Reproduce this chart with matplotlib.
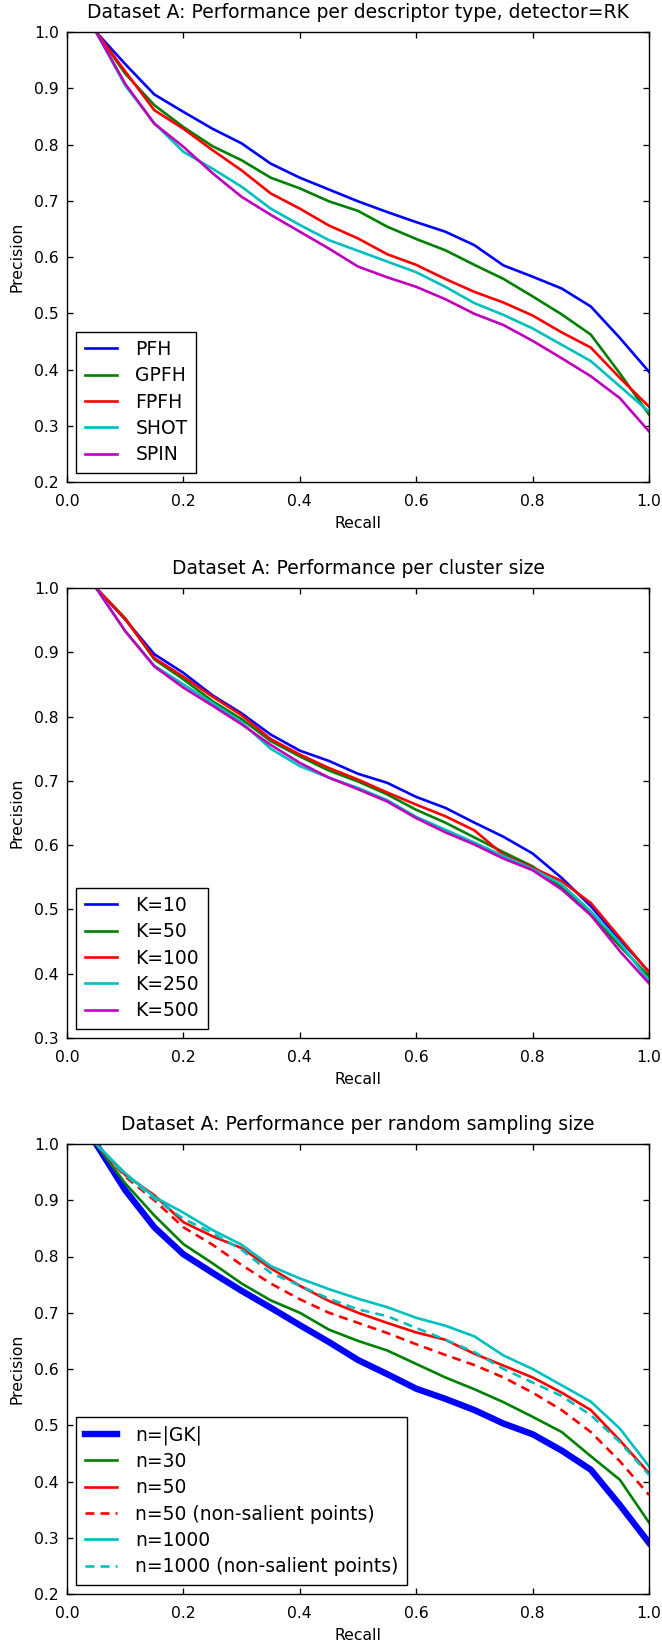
import matplotlib
matplotlib.use("Agg")
import matplotlib.pyplot as plt

recall = [0.05, 0.10, 0.15, 0.20, 0.25, 0.30, 0.35, 0.40, 0.45, 0.50,
          0.55, 0.60, 0.65, 0.70, 0.75, 0.80, 0.85, 0.90, 0.95, 1.00]

# Plot 1: descriptor types
pfh  = [1.0, 0.943, 0.889, 0.858, 0.828, 0.802, 0.766, 0.741, 0.720, 0.699,
        0.680, 0.662, 0.645, 0.621, 0.585, 0.565, 0.544, 0.512, 0.456, 0.396]
gpfh = [1.0, 0.926, 0.870, 0.831, 0.797, 0.772, 0.741, 0.722, 0.699, 0.682,
        0.654, 0.632, 0.612, 0.586, 0.561, 0.530, 0.498, 0.462, 0.393, 0.320]
fpfh = [1.0, 0.930, 0.861, 0.828, 0.790, 0.754, 0.713, 0.686, 0.656, 0.633,
        0.605, 0.586, 0.561, 0.538, 0.519, 0.496, 0.466, 0.439, 0.385, 0.334]
shot = [1.0, 0.905, 0.838, 0.787, 0.757, 0.725, 0.686, 0.657, 0.630, 0.611,
        0.592, 0.573, 0.547, 0.518, 0.497, 0.473, 0.444, 0.415, 0.370, 0.325]
spin = [1.0, 0.908, 0.837, 0.796, 0.749, 0.707, 0.675, 0.645, 0.615, 0.583,
        0.564, 0.547, 0.525, 0.499, 0.479, 0.451, 0.420, 0.388, 0.349, 0.290]
desc_labels = ["PFH", "GPFH", "FPFH", "SHOT", "SPIN"]

# Plot 2: cluster sizes
k10  = [1.0, 0.951, 0.897, 0.868, 0.833, 0.805, 0.772, 0.747, 0.731, 0.711,
        0.697, 0.675, 0.658, 0.635, 0.613, 0.587, 0.549, 0.505, 0.453, 0.403]
k50  = [1.0, 0.953, 0.889, 0.858, 0.824, 0.796, 0.762, 0.738, 0.716, 0.699,
        0.679, 0.655, 0.635, 0.612, 0.589, 0.567, 0.534, 0.492, 0.443, 0.396]
k100 = [1.0, 0.952, 0.891, 0.862, 0.831, 0.802, 0.765, 0.741, 0.720, 0.702,
        0.682, 0.663, 0.645, 0.623, 0.585, 0.565, 0.544, 0.510, 0.456, 0.402]
k250 = [1.0, 0.933, 0.879, 0.850, 0.821, 0.791, 0.750, 0.723, 0.705, 0.689,
        0.670, 0.644, 0.624, 0.604, 0.583, 0.563, 0.539, 0.497, 0.448, 0.389]
k500 = [1.0, 0.933, 0.878, 0.845, 0.817, 0.788, 0.756, 0.728, 0.705, 0.687,
        0.668, 0.642, 0.620, 0.601, 0.579, 0.561, 0.531, 0.491, 0.435, 0.385]
k_labels = ["K=10", "K=50", "K=100", "K=250", "K=500"]

# Plot 3: random sampling sizes
n_gk    = [1.0, 0.918, 0.852, 0.804, 0.771, 0.739, 0.709, 0.678, 0.648, 0.616,
           0.591, 0.565, 0.547, 0.527, 0.503, 0.484, 0.455, 0.421, 0.358, 0.291]
n30     = [1.0, 0.930, 0.873, 0.822, 0.788, 0.752, 0.722, 0.700, 0.670, 0.650,
           0.633, 0.609, 0.585, 0.564, 0.541, 0.515, 0.488, 0.445, 0.403, 0.327]
n50     = [1.0, 0.945, 0.909, 0.861, 0.836, 0.815, 0.779, 0.748, 0.721, 0.700,
           0.682, 0.665, 0.652, 0.627, 0.606, 0.585, 0.558, 0.527, 0.473, 0.415]
n50_ns  = [1.0, 0.942, 0.900, 0.852, 0.821, 0.785, 0.752, 0.724, 0.700, 0.682,
           0.664, 0.644, 0.625, 0.607, 0.585, 0.558, 0.527, 0.488, 0.436, 0.376]
n1000   = [1.0, 0.948, 0.906, 0.878, 0.847, 0.821, 0.783, 0.761, 0.742, 0.725,
           0.710, 0.691, 0.677, 0.658, 0.624, 0.600, 0.571, 0.542, 0.494, 0.427]
n1000_ns = [1.0, 0.945, 0.903, 0.867, 0.842, 0.812, 0.771, 0.748, 0.725, 0.706,
            0.694, 0.673, 0.652, 0.630, 0.600, 0.576, 0.552, 0.518, 0.470, 0.412]
n_labels = ["n=|GK|", "n=30", "n=50", "n=50 (non-salient points)",
            "n=1000", "n=1000 (non-salient points)"]

titles = ["Dataset A: Performance per descriptor type, detector=RK",
          "Dataset A: Performance per cluster size",
          "Dataset A: Performance per random sampling size"]

W, H = 662, 1645
fig = plt.figure(figsize=(W / 100, H / 100), dpi=100)


def add_ax(left, top, right, bottom):
    return fig.add_axes([left / W, 1 - bottom / H, (right - left) / W, (bottom - top) / H])


def style(ax, title, ylim):
    ax.set_xlim(0.0, 1.0)
    ax.set_ylim(*ylim)
    ax.set_title(title, fontsize=13.5, pad=10)
    ax.set_xlabel("Recall", fontsize=11.25, labelpad=5)
    ax.set_ylabel("Precision", fontsize=11.25, labelpad=7)
    ax.tick_params(direction="in", top=True, right=True, length=4, width=0.95,
                   labelsize=11.25)
    ax.tick_params(axis="x", pad=8.5)
    ax.tick_params(axis="y", pad=6)
    for s in ax.spines.values():
        s.set_linewidth(1.0)
    leg = ax.legend(loc="lower left", fontsize=13.5, fancybox=False, framealpha=1,
                    edgecolor="black", handlelength=1.7, handletextpad=1.0,
                    borderpad=0.45, labelspacing=0.39, borderaxespad=0.5)
    leg.get_frame().set_linewidth(1.0)


cyan = (0, 0.75, 0.75)
mag = (0.75, 0, 0.75)
cols = ["#0000ff", "#008000", "#ff0000", cyan, mag]
LW = 1.9
DASH = (0, (3.4, 2.3))

ax1 = add_ax(67, 32, 649, 482)
for ys, lab, c in zip([pfh, gpfh, fpfh, shot, spin], desc_labels, cols):
    ax1.plot(recall, ys, color=c, lw=LW, label=lab)
ax1.set_yticks([0.2, 0.3, 0.4, 0.5, 0.6, 0.7, 0.8, 0.9, 1.0])
style(ax1, titles[0], (0.2, 1.0))

ax2 = add_ax(67, 588, 649, 1038)
for ys, lab, c in zip([k10, k50, k100, k250, k500], k_labels, cols):
    ax2.plot(recall, ys, color=c, lw=LW, label=lab)
ax2.set_yticks([0.3, 0.4, 0.5, 0.6, 0.7, 0.8, 0.9, 1.0])
style(ax2, titles[1], (0.3, 1.0))

ax3 = add_ax(67, 1144, 649, 1594)
ax3.plot(recall, n_gk, color=cols[0], lw=4.6, label=n_labels[0])
ax3.plot(recall, n30, color=cols[1], lw=LW, label=n_labels[1])
ax3.plot(recall, n50, color=cols[2], lw=LW, label=n_labels[2])
ax3.plot(recall, n50_ns, color=cols[2], lw=LW, ls=DASH, label=n_labels[3])
ax3.plot(recall, n1000, color=cols[3], lw=LW, label=n_labels[4])
ax3.plot(recall, n1000_ns, color=cols[3], lw=LW, ls=DASH, label=n_labels[5])
ax3.set_yticks([0.2, 0.3, 0.4, 0.5, 0.6, 0.7, 0.8, 0.9, 1.0])
style(ax3, titles[2], (0.2, 1.0))

fig.savefig("out.png", dpi=100)
